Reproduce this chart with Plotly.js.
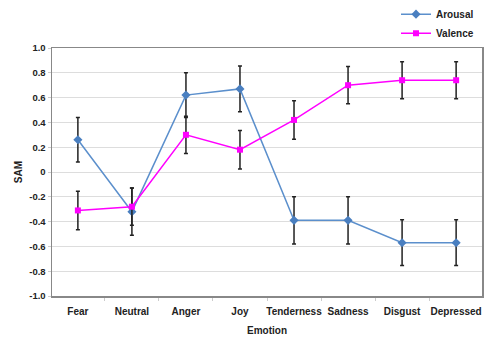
<!DOCTYPE html>
<html><head><meta charset="utf-8">
<script src="https://cdn.plot.ly/plotly-3.0.1.min.js"></script>
<style>html,body{margin:0;padding:0;background:#fff}</style>
</head><body><div id="chart" style="width:489px;height:338px"></div>
<script>
const emotions = ["Fear","Neutral","Anger","Joy","Tenderness","Sadness","Disgust","Depressed"];
const arousal = [0.26, -0.32, 0.62, 0.67, -0.39, -0.39, -0.57, -0.57];
const arousalErr = [0.18, 0.19, 0.18, 0.185, 0.19, 0.19, 0.185, 0.185];
const valence = [-0.31, -0.28, 0.30, 0.18, 0.42, 0.70, 0.74, 0.74];
const valenceErr = [0.155, 0.15, 0.15, 0.155, 0.155, 0.15, 0.15, 0.15];
const yTicks = [1.0, 0.8, 0.6, 0.4, 0.2, 0, -0.2, -0.4, -0.6, -0.8, -1.0];
const yTickText = ["1.0","0.8","0.6","0.4","0.2","0","-0.2","-0.4","-0.6","-0.8","-1.0"];

const FAM = "Liberation Sans, Arial, sans-serif";
const bold9 = {family: FAM, size: 9.5, color: "#222", weight: "bold"};
const bold10 = {family: FAM, size: 10, color: "#222", weight: "bold"};
const traces = [
  {x: emotions, y: arousal, name: "Arousal", type: "scatter", mode: "lines+markers",
   line: {color: "#5B8FCC", width: 1.5},
   marker: {symbol: "diamond", size: 7, color: "#4A7FC0"},
   error_y: {type: "data", array: arousalErr, visible: true, color: "#222", thickness: 1.5, width: 2}},
  {x: emotions, y: valence, name: "Valence", type: "scatter", mode: "lines+markers",
   line: {color: "#FF00FF", width: 1.5},
   marker: {symbol: "square", size: 6, color: "#FF00FF"},
   error_y: {type: "data", array: valenceErr, visible: true, color: "#222", thickness: 1.5, width: 2}}
];
const layout = {
  width: 489, height: 338,
  margin: {l: 52, r: 7, t: 48, b: 42, autoexpand: false},
  paper_bgcolor: "#fff", plot_bgcolor: "#fff",
  font: {family: FAM, size: 10, color: "#222"},
  showlegend: true,
  legend: {x: 0.80, y: 1.195, xanchor: "left", yanchor: "top", bgcolor: "rgba(0,0,0,0)",
           font: bold10, tracegroupgap: 0, itemwidth: 30},
  xaxis: {type: "category", showgrid: false, tickson: "boundaries", ticks: "outside", ticklen: 3,
          tickangle: 0, automargin: false, ticklabelstandoff: 5,
          tickcolor: "#ccc", showline: true, linecolor: "#888", linewidth: 1.5, mirror: true,
          tickfont: bold10,
          title: {text: "Emotion", font: bold10, standoff: 11}},
  yaxis: {range: [-1.0, 1.0], tickvals: yTicks, ticktext: yTickText, showgrid: true, gridcolor: "#ddd", gridwidth: 1,
          zeroline: false, showline: true, linecolor: "#888", linewidth: 1.5, mirror: true, automargin: false,
          ticks: "outside", ticklen: 3, tickcolor: "#ccc",
          tickfont: bold9,
          title: {text: "SAM", font: bold10, standoff: 4}}
};
Plotly.newPlot("chart", traces, layout, {displayModeBar: false, staticPlot: true});
</script></body></html>
